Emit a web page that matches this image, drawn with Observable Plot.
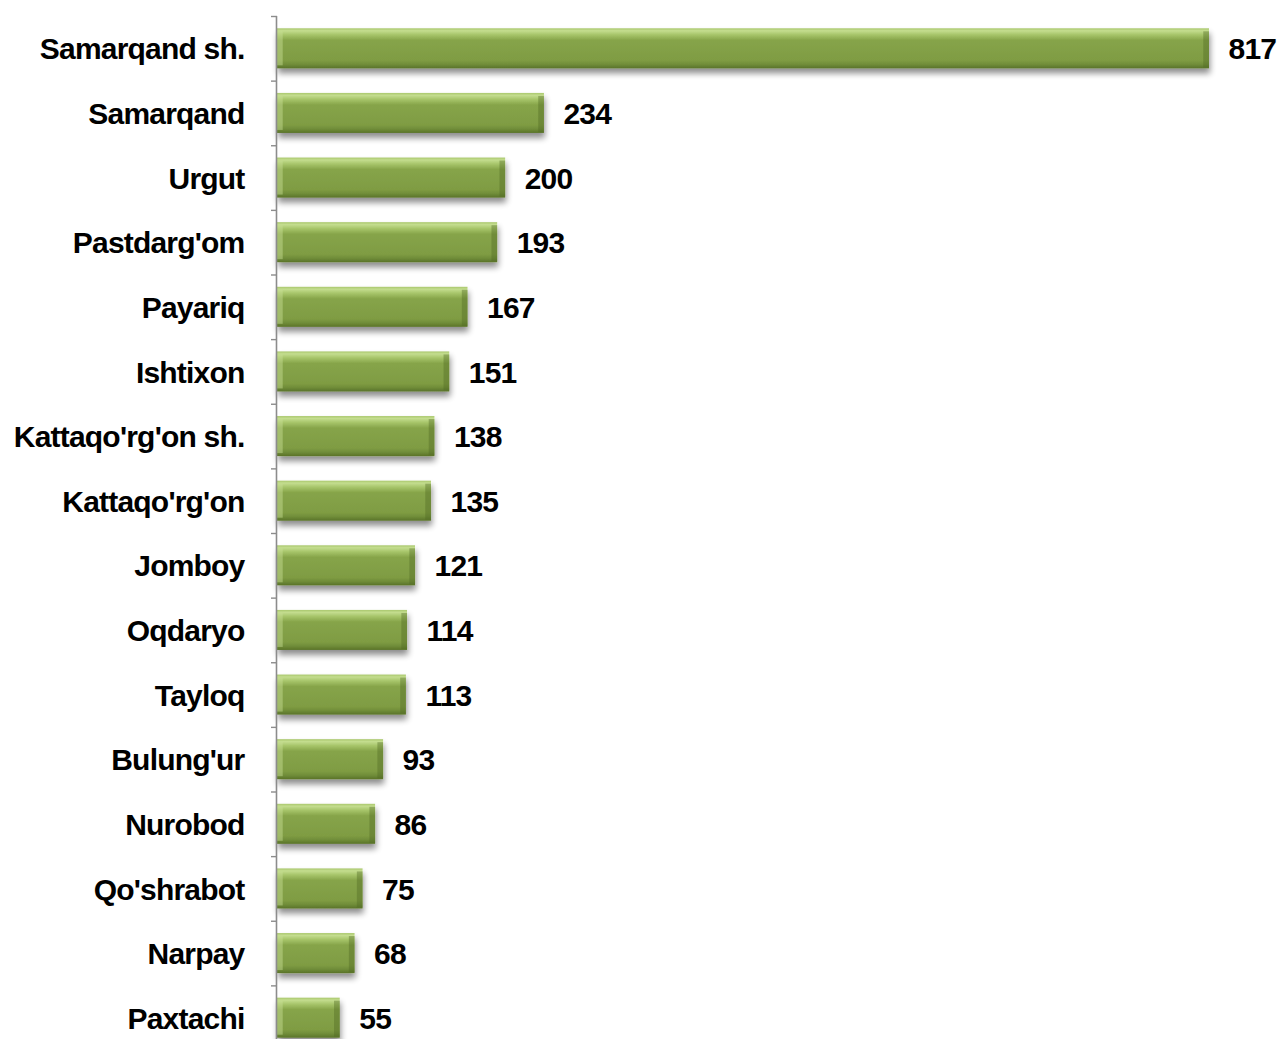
<!DOCTYPE html>
<html>
<head>
<meta charset="utf-8">
<script src="https://cdn.jsdelivr.net/npm/d3@7"></script>
<script src="https://cdn.jsdelivr.net/npm/@observablehq/plot@0.6"></script>
<style>
  html, body { margin: 0; padding: 0; background: #fff; }
  [fill="url(#barGrad)"] { filter: url(#barShadow); }
</style>
</head>
<body>
<div id="chart"></div>
<script>
const names = ["Samarqand sh.", "Samarqand", "Urgut", "Pastdarg'om", "Payariq", "Ishtixon",
  "Kattaqo'rg'on sh.", "Kattaqo'rg'on", "Jomboy", "Oqdaryo", "Tayloq", "Bulung'ur",
  "Nurobod", "Qo'shrabot", "Narpay", "Paxtachi"];
const values = [817, 234, 200, 193, 167, 151, 138, 135, 121, 114, 113, 93, 86, 75, 68, 55];

const data = names.map((name, i) => ({name, value: values[i]}));

const W = 1279, H = 1039;
const yRange = [16, 1050];
const step = (yRange[1] - yRange[0]) / names.length;

function defs() {
  const ns = "http://www.w3.org/2000/svg";
  const g = document.createElementNS(ns, "defs");
  g.innerHTML = `
    <linearGradient id="barGrad" x1="0" y1="0" x2="0" y2="1">
      <stop offset="0" stop-color="#a9c76c"/>
      <stop offset="0.06" stop-color="#c4dd8f"/>
      <stop offset="0.16" stop-color="#a7c56a"/>
      <stop offset="0.3" stop-color="#86a449"/>
      <stop offset="0.8" stop-color="#7f9c43"/>
      <stop offset="0.9" stop-color="#708d39"/>
      <stop offset="1" stop-color="#5a7329"/>
    </linearGradient>
    <filter id="barShadow" x="-5%" y="-20%" width="110%" height="170%">
      <feGaussianBlur in="SourceAlpha" stdDeviation="3"/>
      <feOffset dx="1" dy="5" result="ob"/>
      <feComponentTransfer><feFuncA type="linear" slope="0.45"/></feComponentTransfer>
      <feMerge><feMergeNode/><feMergeNode in="SourceGraphic"/></feMerge>
    </filter>`;
  return g;
}

const inset = 12.3;
const chart = Plot.plot({
  width: W,
  height: H,
  marginTop: yRange[0],
  marginBottom: 0,
  marginLeft: 277,
  marginRight: 70,
  x: {domain: [0, 817], axis: null},
  y: {domain: names, range: yRange, padding: 0, round: false, label: null},
  style: {fontFamily: "'Liberation Sans', Arial, sans-serif", background: "#fff", letterSpacing: "-0.8px"},
  marks: [
    defs,
    Plot.barX(data, {y: "name", x: "value", fill: "url(#barGrad)", insetTop: inset, insetBottom: inset}),
    Plot.barX(data, {y: "name", x1: 0, x2: 5, fill: "#c9e096", fillOpacity: 0.45, insetTop: inset + 3, insetBottom: inset + 3}),
    Plot.barX(data, {y: "name", x1: d => d.value - 5, x2: "value", fill: "#4f6a22", fillOpacity: 0.4, insetTop: inset + 3, insetBottom: inset + 1}),
    Plot.text(data, {y: "name", x: "value", text: d => String(d.value), textAnchor: "start", dx: 19, dy: 1,
      fontSize: 30, fontWeight: "bold", fill: "#000"}),
    Plot.text(data, {y: "name", x: 0, text: "name", textAnchor: "end", dx: -33, dy: 1,
      fontSize: 30, fontWeight: "bold", fill: "#000"}),
    Plot.ruleX([0], {stroke: "#8c8c8c", strokeWidth: 1.6, dx: -1}),
    Plot.axisY({anchor: "left", label: null, tickSize: 6, tickFormat: () => "", dy: -step / 2, stroke: "#8c8c8c", strokeWidth: 1.4})
  ]
});
document.getElementById("chart").appendChild(chart);
</script>
</body>
</html>
